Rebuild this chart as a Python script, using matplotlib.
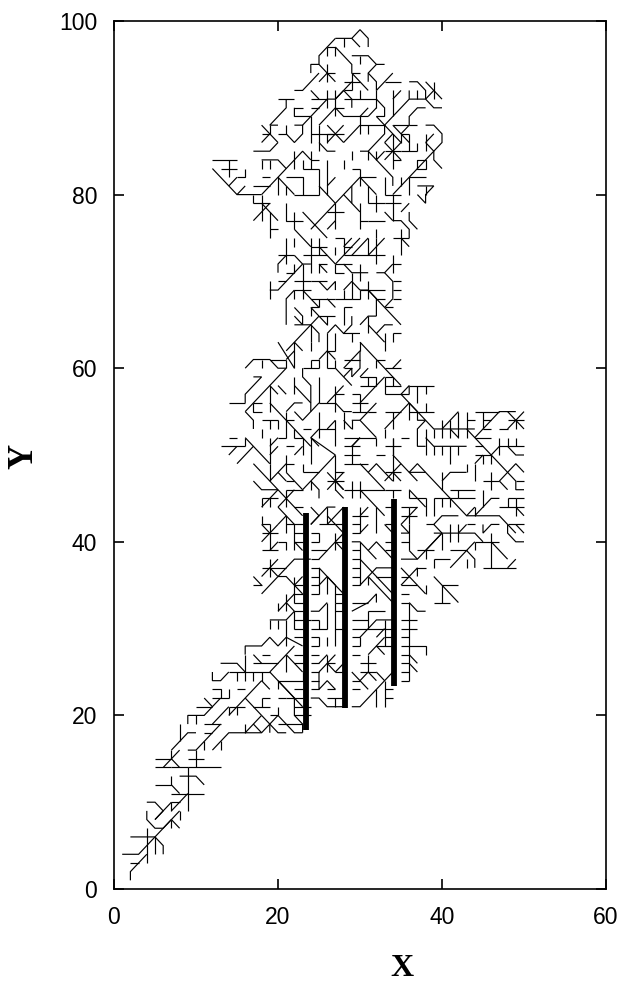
import matplotlib
matplotlib.use("Agg")
import matplotlib.pyplot as plt
from matplotlib.collections import LineCollection

x_ticks = [0, 20, 40, 60]
y_ticks = [0, 20, 40, 60, 80, 100]
bar_x = [23.4, 28.2, 34.15]
bar_y0 = [18.3, 20.9, 23.4]
bar_y1 = [43.3, 44.0, 44.9]

top_branches = [
(27,98,29,98,30,99,31,98,31,97),(29,98,30,97),(28,98,28,97),(27,98,26,97,25,96,25,95,24,95,24,94),(26,97,27,97,27,96),(27,97,29,95,29,94,30,93,31,92),(26,97,26,96),
(25,95,27,93),(26,95,26,93),(26,94,27,94),(26,94,25,93),(25,94,23,92,22,92),
(29,96,31,96,32,95,33,95),(30,96,30,95),(32,95,31,94,31,93),(31,94,32,93,32,92,34,94),(29,94,30,94),(29,94,29,92),(28,93,30,93),(29,93,27,91),(28,92,29,92),
(33,93,35,93),(36,93,37,93,38,92,38,91),(38,93,40,91),(39,93,39,91),(39,92,38,91,36,91),(38,91,39,90,40,90),(36,92,36,91,33,88),(37,92,37,91),(34,92,34,89),(34,91,35,92),
(32,92,32,90),(32,91,33,90,33,89,32,89),(32,90,31,89),
(20,91,22,91),(21,91,21,90,19,88,20,88),(19,88,19,87,18,87),(18,88,20,86),(18,86,19,87),(20,87,21,87,21,88),(21,87,22,86,23,87,23,88,22,88),(20,86,19,85,17,85),
(22,90,22,89,24,89,23,88),(22,90,23,90),(24,89,25,90,26,91,27,91,28,92),(24,90,25,90),(26,92,26,90),(24,91,26,91),(24,92,25,91),(24,89,24,86),
(27,92,27,89),(27,90,28,90),(27,90,28,89,31,89),(25,88,27,90),(30,92,30,91,32,91),(28,91,30,91),(28,92,29,91,29,90),(30,89,31,90),
(30,88,28,86),(30,89,30,87),(30,88,33,88),(31,88,31,87),(32,89,33,88,34,87,35,86),(34,87,34,83),(33,86,34,87),(33,88,33,87,31,85,30,85),(31,85,31,84),(31,85,34,82,34,81),
(34,88,36,88),(34,88,36,86),(35,87,36,87),(35,87,35,86),(35,87,36,88,36,89,37,90,38,90),(36,88,37,88),(38,88,39,88,40,87,40,86,36,82),
(38,87,38,85),(38,86,39,87),(38,86,39,85,39,84,40,83),(37,84,38,84,38,83,37,83,37,84),(36,87,36,85),(35,85,37,85),(37,86,37,85),(34,84,35,84),(33,85,35,85),(33,84,35,86),(33,86,35,84),
(36,82,38,82),(36,82,34,80),(33,80,35,80),(34,80,34,77),(33,79,35,79),(36,82,36,80),(35,82,35,81),(37,81,39,81,38,80,38,79,37,80),(38,81,38,80),
(12,84,15,84),(14,84,14,82),(13,83,15,83),(12,83,15,80,18,80),(14,81,15,82),(15,80,16,81),(16,83,16,82,15,82),(17,80,17,79),(18,80,20,82),
(18,80,18,77),(17,77,19,79),(17,79,19,79),(18,79,20,77),(19,78,19,76,20,76),(20,82,22,84,23,85,24,84),(18,84,20,84,21,83),(18,84,18,83),(18,82,19,82),(19,84,19,83),
(20,82,20,80),(17,81,19,81),(21,82,23,82,23,80),(21,81,21,80),(20,82,22,80),(22,80,25,80),(22,85,22,83),(23,83,25,83),(24,85,24,83),(24,84,25,84),(23,84,23,83),
(24,87,27,87),(25,88,25,85),(26,87,26,86),(25,86,26,85,27,85),(26,87,28,87),(26,86,28,88),(26,88,28,86),
(26,84,26,80),(25,83,25,80),(25,81,26,80,27,79,30,82,32,80),(26,81,27,82),(29,83,30,83),(30,83,30,81),(30,82,32,82),(32,80,32,78),(31,79,33,79),(31,81,31,79),(31,77,33,77),
(29,81,29,79,30,78),(28,80,29,79),(30,79,30,76),(30,77,31,77),(27,79,24,76),(23,78,24,77,26,75),(22,78,22,76),(27,79,27,76),(26,78,28,78),(26,76,27,77),
(28,84,28,83),(29,84,29,85),(32,85,32,84),(33,82,33,80),(32,84,33,85),(21,79,21,77,23,77),(19,76,19,75),(32,76,32,75),(36,78,36,77,37,76),(34,77,35,77,36,76,36,75),(33,78,34,77),(36,79,35,78),
]

mid_branches = [
(21,75,21,72),(20,73,22,73),(22,75,22,74),(21,73,20,72,20,71),(22,73,23,72,24,72),(24,75,24,71),(23,73,26,73),(24,74,26,74),(25,75,25,73),(22,76,24,74),(25,74,27,72),(27,74,27,73),(25,72,26,72),(25,72,26,71),(25,72,25,71),
(27,72,30,75),(27,75,28,75),(28,74,29,75),(28,75,28,73),(28,74,29,74),(28,73,33,73),(29,73,31,75),(31,75,31,73),(31,73,33,75),(32,75,32,72),(27,72,29,72),(27,72,27,71,28,71),(28,72,29,71,31,71),(30,72,30,70),(29,71,29,70),
(35,76,35,73),(34,75,36,75),(35,75,36,74),(34,73,34,71),(34,72,35,72),(34,72,33,71,32,71),(33,71,34,70,34,68),(34,70,35,70),(34,69,35,69),(34,68,35,68),(34,68,33,67,31,69,30,69),(33,67,35,65),(30,69,33,69),(31,70,31,68),(31,69,32,68,32,66),(32,68,33,68),(33,67,34,67),
(28,69,29,70,30,69),(29,70,29,68),(28,69,28,68),(27,68,29,68),(28,67,28,65),(28,67,29,67),(29,68,30,68),(30,69,30,68),
(19,70,19,68),(19,69,20,69,21,70,23,72),(20,70,21,70),(21,71,22,71),(22,72,22,71),(23,72,23,68),(22,70,24,70),(22,69,24,69),(24,70,26,70),(25,70,26,69,27,70,27,69),(23,69,25,67),(24,68,27,68),(25,68,25,67),(26,68,27,67),
(22,69,22,68),(22,69,21,68,21,65),(24,67,25,67),(24,67,24,66),(24,67,26,65),(25,66,27,66),(26,66,26,65),(22,67,23,66,23,65),(22,66,23,65),(22,65,24,65,25,66),(24,65,21,62),(24,65,24,63),(24,65,25,64,25,63),
(26,64,26,62),(26,64,27,65,28,64,30,64),(28,64,29,65,29,66),(29,64,29,63),(27,64,27,62),(30,63,35,58),(30,63,30,62),(30,65,31,66,32,66),(31,66,31,64),(31,65,33,63),(32,64,33,65,34,65),(34,64,34,63),(34,64,35,64),(33,64,33,62),
(19,61,21,61),(20,63,22,60),(21,61,21,60),(21,61,22,62),(22,63,22,60),(22,63,23,62),(24,63,24,62),(24,61,24,60),(24,61,25,61,25,60),(25,61,26,62,27,61),(26,62,27,62),(26,62,26,60),(27,61,27,60),(28,60,29,61,30,62),(28,61,30,61),(30,62,30,60,29,59),(28,60,29,60),
(31,60,30,59),(32,61,32,60),(32,61,33,61),(33,60,35,60),(34,60,35,61),(33,59,32,58),(33,59,33,57),(33,59,34,59,34,58),
(16,60,17,61,19,61,20,60,21,60),(18,61,18,60),(21,60,19,58,16,55),(17,59,18,59,16,57,16,56),(19,58,19,55),(19,58,20,57),(20,58,21,57),(19,56,21,54),
(23,60,25,60),(23,60,23,59,24,58,24,55),(25,59,25,56),(26,60,27,60),(22,59,22,57),(22,58,24,56),(25,56,27,56),(25,56,23,54,22,55),(26,56,28,58),(27,60,29,58),(28,59,29,60,29,59),(27,58,27,55),(27,57,28,57),(29,57,30,57),
(30,56,32,58),(29,56,31,56),(30,57,30,55),(30,58,32,58),(31,59,31,58),(30,59,32,59,32,58),(33,58,35,58),(33,57,36,57),(35,57,36,58,36,57),(35,57,37,55),(36,56,33,53),(33,55,35,55),(34,55,34,53),(36,58,39,58),(37,58,37,56),(38,58,38,57),
(36,56,36,54),(36,55,39,55),(38,56,38,55),(36,56,38,54,37,54),(38,54,37,53,37,51,38,51),(37,55,37,54),
(29,54,29,53),(29,54,30,54,32,52),(30,54,32,56),(31,55,32,55),(29,55,31,55),(28,52,32,52),(29,51,30,52),(32,52,32,51),(33,53,33,52),
(14,56,16,56),(17,56,18,56),(17,56,17,55,18,55),(16,55,17,54,17,53),(18,54,20,54),(19,54,19,53),(20,54,20,53),(21,54,22,54),(21,54,24,51),(21,55,21,52),(21,55,22,56,23,56),(25,55,25,52),(25,53,27,53),(25,53,24,52,25,51),(27,54,27,51),(26,53,27,54),(27,56,28,55,29,55),(28,55,28,53),
(20,52,21,52),(20,52,19,51),(14,52,15,52),(16,52,16,51),(35,52,36,52),(34,52,34,50),(23,53,24,53),(22,53,22,52),(22,52,23,52),(18,53,18,52),(28,54,29,53),
]

lobe_branches = [
(38,54,39,53,44,53),(38,53,38,50),(38,52,39,51,43,51),(40,51,40,50),(39,51,39,50),(41,51,41,49),(42,51,42,50),
(40,53,42,55),(40,54,40,52),(39,53,39,52),(41,54,41,52),(41,53,42,52),(42,55,42,52),(43,55,43,52),(43,54,44,54),(43,53,48,48),
(44,52,46,52),(44,52,46,54,47,55,49,55),(45,53,46,53),(45,55,45,53),(44,55,47,55),(45,54,46,54),(48,55,50,53),(48,53,50,55),(48,54,50,54),(49,54,49,53),(47,53,48,53),
(46,50,47,51),(47,52,47,50),(47,51,50,51),(48,52,48,51),(49,52,49,51),(48,51,49,50,50,50),(44,51,45,51),(44,50,46,50),(45,50,45,49),(44,49,45,50),(46,50,46,49),
]

right_branches = [
(13,51,16,51),(14,50,15,51),(15,49,17,51),(16,52,19,49),(19,50,20,51),(19,52,19,49),(21,51,22,51),(22,50,23,51),(23,52,23,50),(24,52,24,49),(24,52,27,50),(27,50,27,46),(27,50,23,46),(23,48,25,48),(23,49,23,48),(24,47,24,46),(24,47,25,46,25,45),(21,46,23,46),(23,46,22,47,21,48),(21,47,22,47),
(27,48,28,48),(26,47,28,47),(26,46,28,48),(27,47,28,46),(26,48,28,46),(28,46,33,46),(29,47,29,45),(30,47,30,45),(30,46,33,43),(30,49,33,46),(33,46,35,46),(34,46,34,45),(31,48,32,49,34,47),(33,48,35,48),(33,47,35,49),(34,48,35,47),(34,52,34,47),
(28,51,30,51),(29,51,30,52),(28,50,30,50),(29,51,29,49),(28,49,31,49),(32,50,33,50),(33,51,35,51),(34,50,36,48,38,48),(36,48,37,47),(36,48,37,49,43,43,47,43,49,41),(43,43,44,44),
(48,42,48,41,49,40,50,40),(48,42,50,42),(49,42,50,41),(40,48,40,46),(40,47,41,48,43,48),(43,49,43,48),(41,46,44,46),(42,46,42,45),(42,45,44,45),(47,47,49,49,50,48),(48,48,49,47,49,46,50,46),(49,47,50,47),
(45,47,47,47),(46,48,46,46),(47,47,48,46),(49,45,50,45),(48,45,49,45),(48,45,48,44),(49,45,49,43),(44,43,46,45,47,45),(45,46,45,44),(47,44,50,44),(49,44,50,43),(44,44,44,43),(44,49,44,47),(43,42,44,42),(43,42,42,41),(45,42,45,41,46,42,47,42),
(42,42,42,40),(41,42,41,40),(39,41,44,41,45,40),(39,42,40,41),(40,41,38,39),(40,41,40,39),(39,42,40,43,42,43),(39,45,42,45),(39,45,39,43),(40,45,40,44),(41,45,41,44),(38,42,39,42),
(44,40,47,40),(46,41,46,37),(46,40,48,38),(45,37,49,37),(48,37,49,38),(44,40,43,39,44,38,44,37),(41,39,43,39),(44,40,44,39),(43,39,41,37),(43,38,43,37),(39,38,41,38),(39,38,39,37),(39,36,42,33),(40,35,40,33),(40,35,42,35),(39,33,41,33),
(35,37,38,34),(36,36,35,35),(36,36,37,37,37,36),(35,38,37,38,40,41),(38,39,38,38),(37,39,39,39),(36,39,37,38),(35,41,36,41,35,42),(36,42,36,39),(35,43,37,43),(36,44,36,42),(35,42,37,44),(36,46,36,45),(36,46,38,44),(38,45,38,43),(37,45,38,45),(36,45,37,45),(36,44,37,44),(37,37,38,37),(38,35,38,34),
]

lower_branches = [
(29,43,31,43),(30,44,30,41),(30,43,31,44),(30,41,31,42),(29,42,30,42),(29,41,30,41),(32,44,32,41),(33,44,34,44),(33,42,34,42),(33,42,34,41),
(29,40,30,40,32,38),(29,39,30,39),(29,38,30,38),(29,37,30,37),(31,39,32,40,34,38),(33,39,34,39),(33,40,34,40),(30,38,34,34),(32,36,34,36),(29,36,30,36),(29,35,30,35),(30,35,32,37,34,37),(31,36,34,33),(31,36,31,35),(30,40,30,35),
(24,42,26,44,27,44),(25,42,28,42),(26,44,26,42),(24,41,25,41),(24,40,25,40),(24,39,26,39),(25,38,28,41),(25,41,25,40),(27,41,27,39),(27,40,28,40),(26,42,28,44),(27,40,28,39),(26,43,28,41),
(24,38,25,38),(25,37,28,34),(24,37,25,37),(25,37,25,34),(24,36,25,36),(24,35,25,35),(24,34,25,34),(25,35,26,36,27,35),(26,36,26,34),(27,35,27,33),(27,34,28,34),(27,33,28,33),(27,32,28,32),(27,33,27,28),(26,33,26,30),(26,33,25,32,24,32),(24,31,25,31),(24,30,26,30),(27,30,28,30),
(24,29,25,29),(25,31,25,30),(25,29,25,28),(24,28,25,28),(26,29,26,28),(26,27,25,26),(24,27,25,27),(25,25,27,27),(24,25,25,25),(26,26,27,25,28,26),(26,26,27,26),(26,27,26,25),(27,25,28,25),(24,24,25,24),(25,25,25,23,26,24,27,23),(26,23,27,23),(24,22,25,22,26,21,28,21),(26,22,28,22),(27,22,27,21),(24,26,25,26),(24,23,25,23),
(29,32,31,33,32,34,32,33),(29,33,31,33),(31,32,31,30),(29,31,31,31),(31,32,33,32),(29,30,33,30),(31,30,30,29),(31,30,32,31,34,31),(33,30,34,30),(33,31,33,28),(32,29,33,30),(33,29,34,29),(31,27,33,29),(32,28,34,28),(32,28,33,27),(31,27,31,25),(30,26,32,26),(30,25,32,25),(30,24,31,25,32,24),(29,25,31,23),(32,25,33,24,30,21,29,21),(33,24,34,25),(33,23,34,23),(33,22,34,22),(33,24,33,21),(32,23,32,21),(29,28,30,28),(29,29,30,29),(29,27,30,27),(30,28,30,29),(29,24,30,24),(29,23,30,23),
(35,44,36,44),(35,40,36,40),(35,36,36,36),(35,35,37,35),(36,33,36,24),(35,33,36,33),(36,33,37,32,38,32),(35,31,37,31),(35,30,37,30),(35,29,36,29),(36,28,38,28,38,27),(35,28,36,28),(35,27,36,27),(36,27,37,26),(36,26,37,25),(35,26,36,26),(35,25,36,25),(35,24,36,24),(35,34,36,34),
(18,43,18,42,19,42),(18,40,20,42),(18,41,20,41),(19,42,19,39),(19,41,18,42),(20,42,21,43),(20,44,22,42),(21,42,23,42),(21,43,21,41),(22,42,22,39),(22,41,23,41),(22,40,23,40),(22,40,23,39),(20,40,21,40,21,39),(19,39,20,40),(18,39,20,39),(18,36,20,38),(18,37,21,37),(19,38,19,36),(20,36,22,38,24,38),(19,37,20,36),
(20,36,21,36,23,34),(22,35,23,36),(22,36,22,33),(22,35,23,35),(22,34,23,34),(22,33,23,33),(17,36,18,35),(17,35,18,35),(18,34,20,36),(20,32,22,34),(21,34,21,32),(21,33,22,32),(20,33,20,32),(22,32,22,30),(22,32,23,32),(22,31,24,31),(22,30,23,30),(22,32,21,31,19,31),(19,31,19,30),(20,31,20,30),
(21,31,21,28),(21,29,23,28),(22,29,23,29),(21,29,20,28,19,29,18,28,16,28,16,27),(21,27,22,28),(21,27,19,25),(21,27,21,25),(21,27,23,25),(18,27,19,27),(17,27,18,26),(17,26,20,26),(13,26,15,26,16,25),(16,27,16,25),(14,25,19,25),(14,25,13,24,12,24,12,25),(15,25,15,24),(16,25,16,24),(17,25,17,24),(18,25,18,24),
(19,25,23,21),(20,24,23,24),(20,24,20,23),(21,22,23,22),(23,24,23,25),(22,27,23,27),(22,26,23,26),(18,44,20,46),
(17,47,18,46,20,46),(17,49,23,43),(18,45,20,45),(18,45,18,44),(19,45,19,44),(20,44,22,46),(21,46,21,44),(22,44,23,44),(19,47,21,49),(21,50,21,48),(19,49,19,47),(20,48,21,47),(21,49,22,49),(24,44,25,43,24,42),(27,46,28,45),
]

tail_branches = [
(2,1,2,2,4,4),(2,3,3,3),(4,7,4,3),(1,4,3,4,8,9),(2,6,5,6,6,5,6,4),(5,6,5,4),(4,9,4,8,5,7,6,7,7,8,8,7),(7,8,7,7),(8,9,8,8),(9,11,7,9),(7,10,8,10),(7,10,7,9),(7,10,5,8),(4,10,5,10,6,9,5,8),(9,11,9,9),(7,11,11,11),(8,11,7,12),(7,13,7,12,5,12),
(9,11,9,14),(8,13,10,13,11,12),(7,14,9,14),(5,14,7,14),(5,15,7,15),(6,14,7,15,8,14),(7,16,7,15),(7,16,9,18,10,18),(7,15,8,16),(8,19,8,17),(9,14,12,14,13,14),(10,16,10,14),(9,15,11,15),(9,16,10,16,13,19),(11,17,11,16),(11,18,12,18),(13,17,13,16),(12,16,14,18,18,18),(16,19,16,18),(16,18,17,19,18,18,19,19,20,18,21,18),
(19,19,20,20,22,18,23,18),(18,20,19,19,19,18),(17,19,18,20),(16,22,18,20),(16,22,14,20),(15,21,15,20),(14,21,16,21),(12,23,13,23,13,22),(14,23,14,22),(12,22,14,22),(11,22,12,21,13,22),(12,21,11,20,9,20,9,19),(10,21,12,21),(10,20,10,19),(14,21,12,19),(11,19,13,19),(14,21,14,20),
(18,24,16,22),(17,21,19,21),(15,23,16,23),(18,24,19,23),(18,22,18,21),(18,22,19,22),(20,24,22,22,22,20,23,19,23,18),(20,22,21,22),(22,21,24,21),(22,20,24,20),(20,21,20,20),(19,20,20,20),(20,19,23,19),(22,23,23,23),
]

BRANCHES = top_branches + mid_branches + lobe_branches + right_branches + lower_branches + tail_branches

fig = plt.figure(figsize=(6.22, 9.86), dpi=100)
ax = fig.add_axes([114/622, 1 - 889/986, (606-114)/622, (889-21)/986])

segs = [[(b[i], b[i+1]) for i in range(0, len(b), 2)] for b in BRANCHES]
ax.add_collection(LineCollection(segs, colors="black", linewidths=0.85, capstyle="butt", joinstyle="miter"))

for x, y0, y1 in zip(bar_x, bar_y0, bar_y1):
    ax.plot([x, x], [y0, y1], color="black", lw=4.2, solid_capstyle="butt")

ax.set_xlim(0, 60)
ax.set_ylim(0, 100)
ax.set_xticks(x_ticks)
ax.set_yticks(y_ticks)
ax.tick_params(direction="in", length=7.2, width=1.2, top=True, right=True, labelsize=16.5, pad=12)
for lab in ax.get_xticklabels() + ax.get_yticklabels():
    lab.set_family(["Liberation Sans", "DejaVu Sans"])
for s in ax.spines.values():
    s.set_linewidth(1.2)

fig.text(402/622, 1 - 968/986, "X", family="Liberation Serif", weight="bold", fontsize=23, ha="center", va="center")
fig.text(24/622, 1 - 456/986, "Y", family="Liberation Serif", weight="bold", fontsize=25, rotation=90, ha="center", va="center")

fig.savefig("out.png", dpi=100)
